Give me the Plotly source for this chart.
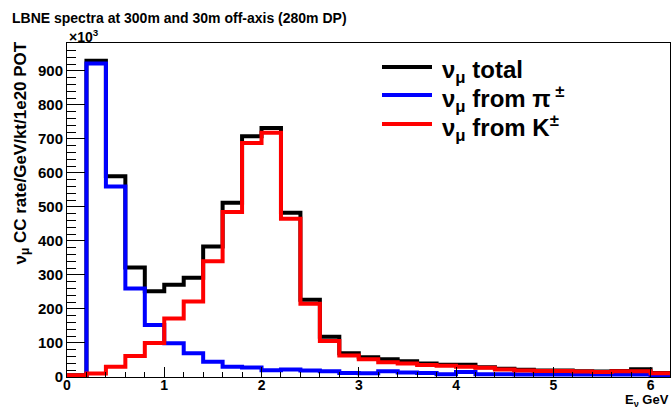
import plotly.graph_objects as go

# Energy binning (GeV): 31 bins of 0.2 GeV
bin_width = 0.2
n_bins = 31
bin_edges = [round(i * bin_width, 1) for i in range(n_bins + 1)]

# nu_mu CC rate per bin (units of 10^3)
numu_total = [5, 930, 590, 322, 252, 271, 292, 384, 512, 708, 732, 483, 227, 118, 70,
              58, 52, 46, 40, 36, 36, 29, 24, 21, 19, 19, 17, 16, 18, 23, 12]
numu_from_pi = [0, 922, 560, 260, 153, 99, 70, 45, 30, 28, 20, 22, 19, 17, 12,
                11, 17, 13, 12, 8, 15, 8, 8, 7, 7, 7, 7, 7, 7, 7, 4]
numu_from_k = [5, 10, 30, 62, 100, 172, 222, 340, 485, 688, 718, 465, 215, 106, 63,
               52, 43, 40, 35, 33, 30, 27, 22, 19, 18, 18, 16, 15, 17, 17, 11]

series = [
    ("ν<sub>μ</sub> total", numu_total, "#000000"),
    ("ν<sub>μ</sub> from π<sup> ±</sup>", numu_from_pi, "#0000ff"),
    ("ν<sub>μ</sub> from K<sup>±</sup>", numu_from_k, "#ff0000"),
]

FONT = "Liberation Sans"
W, H = 672, 411
L, R, T, B = 67, 2, 43, 34
PW, PH = W - L - R, H - T - B


def px(x):
    return (x - L) / PW


def py(y):
    return (H - B - y) / PH


fig = go.Figure()
for name, vals, color in series:
    fig.add_trace(go.Scatter(
        x=bin_edges,
        y=vals + [vals[-1]],
        mode="lines",
        line=dict(color=color, width=4, shape="hv"),
        name=name,
        showlegend=False,
        hoverinfo="skip",
    ))

# Hand-drawn legend box (long line samples, big bold labels)
leg_rows = [67, 95, 124]
for (name, _, color), yrow in zip(series, leg_rows):
    fig.add_shape(type="line", xref="paper", yref="paper",
                  x0=px(382), x1=px(432), y0=py(yrow), y1=py(yrow),
                  line=dict(color=color, width=4))
    fig.add_annotation(xref="paper", yref="paper", x=px(440), y=py(yrow + 4),
                       xanchor="left", yanchor="middle", showarrow=False,
                       text="<b>" + name + "</b>",
                       font=dict(family=FONT, size=24, color="black"))

# Title, axis titles and exponent marker
fig.add_annotation(xref="paper", yref="paper", x=px(10), y=py(18),
                   xanchor="left", yanchor="middle", showarrow=False,
                   text="<b>LBNE spectra at 300m and 30m off-axis (280m DP)</b>",
                   font=dict(family=FONT, size=14, color="black"))
fig.add_annotation(xref="paper", yref="paper", x=px(67), y=py(36),
                   xanchor="left", yanchor="middle", showarrow=False,
                   text="<b>×10<sup>3</sup></b>",
                   font=dict(family=FONT, size=14, color="black"))
fig.add_annotation(xref="paper", yref="paper", x=px(21), y=py(40),
                   xanchor="center", yanchor="top", showarrow=False, textangle=-90,
                   text="<b>ν<sub>μ</sub> CC rate/GeV/kt/1e20 POT</b>",
                   font=dict(family=FONT, size=17, color="black"))
fig.add_annotation(xref="paper", yref="paper", x=px(671), y=py(411),
                   xanchor="right", yanchor="bottom", showarrow=False,
                   text="<b>E<sub>ν</sub> GeV</b>",
                   font=dict(family=FONT, size=13, color="black"))

fig.update_xaxes(
    range=[0, 6.2], showgrid=False, zeroline=False,
    showline=True, linecolor="black", linewidth=1, mirror=True,
    ticks="inside", ticklen=10, tickcolor="black", dtick=1, tick0=0,
    ticklabelstandoff=-5,
    minor=dict(ticks="inside", ticklen=5, dtick=0.2, tickcolor="black", showgrid=False),
    tickfont=dict(family=FONT, size=14, color="black", weight="bold"),
)
fig.update_yaxes(
    range=[0, 982], showgrid=False, zeroline=False,
    showline=True, linecolor="black", linewidth=1, mirror=True,
    ticks="inside", ticklen=18, tickcolor="black", dtick=100, tick0=0,
    minor=dict(ticks="inside", ticklen=9, dtick=20, tickcolor="black", showgrid=False),
    tickfont=dict(family=FONT, size=15, color="black", weight="bold"),
)
fig.update_layout(
    width=W, height=H,
    margin=dict(l=L, r=R, t=T, b=B),
    paper_bgcolor="white", plot_bgcolor="white",
    font=dict(family=FONT),
)
fig.write_html("out.html")
